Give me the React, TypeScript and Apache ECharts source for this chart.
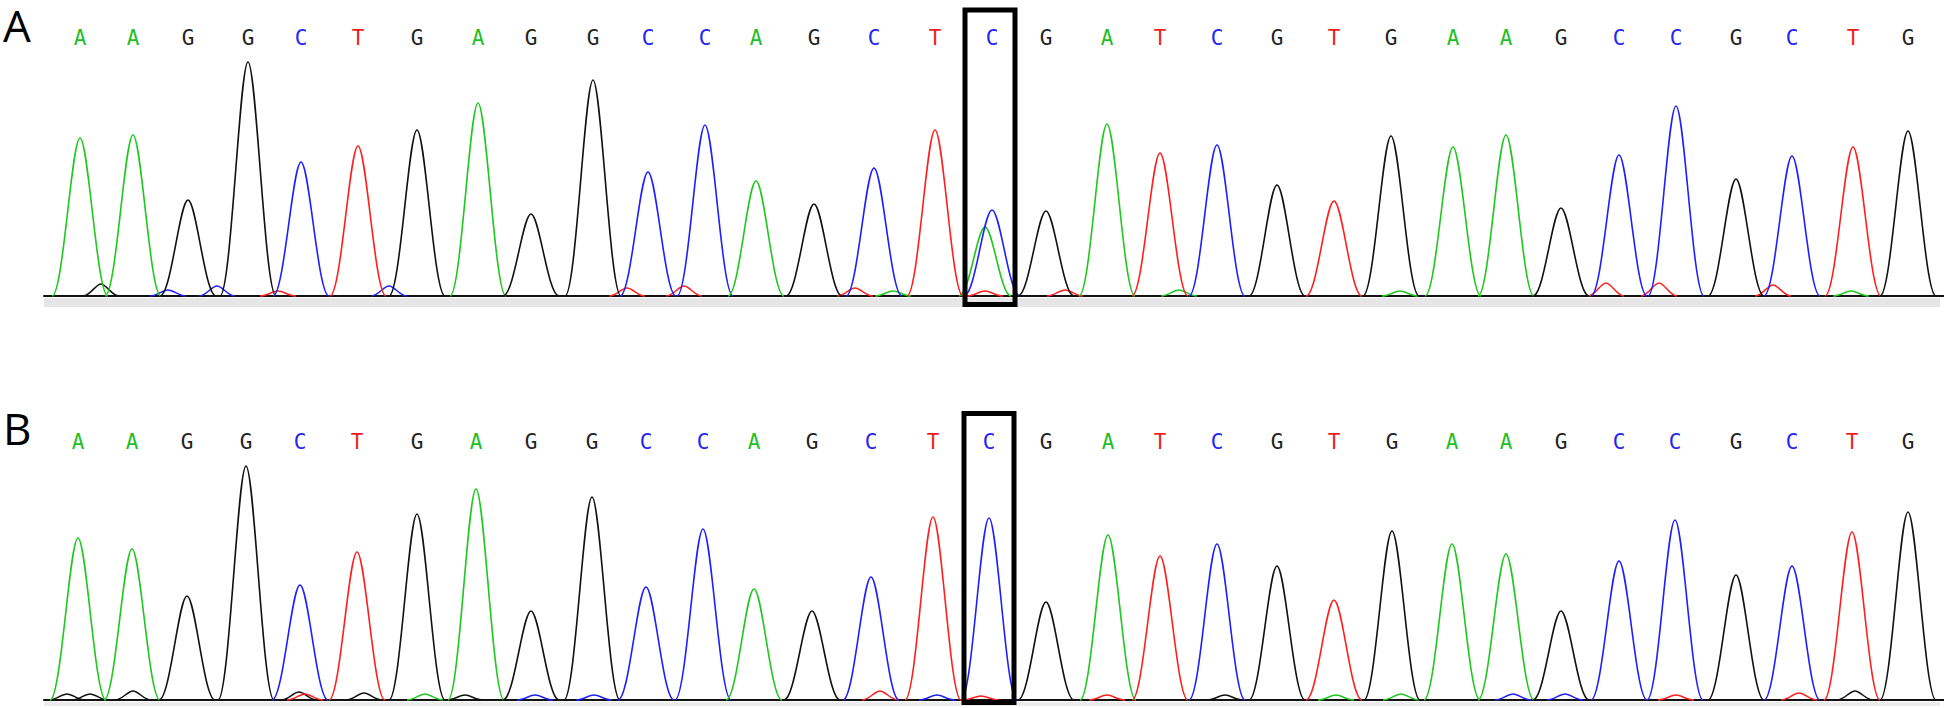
import React, { useEffect, useRef } from "react";
import * as echarts from "echarts";

// Base calls (same sequence in both panels)
const SEQUENCE = ["A","A","G","G","C","T","G","A","G","G","C","C","A","G","C","T","C","G","A","T","C","G","T","G","A","A","G","C","C","G","C","T","G"];

// Panel A: peak positions (scan units) and peak heights
const POS_A = [36,89,144,204,257,314,373,434,487,549,604,661,712,770,830,891,948,1002,1063,1116,1173,1233,1290,1347,1409,1462,1517,1575,1632,1692,1748,1809,1864];
const HEIGHT_A = [158,161,96,234,134,150,166,193,82,216,124,171,115,92,128,166,86,85,172,143,151,111,95,160,149,161,88,141,190,117,140,149,165];

// Panel B: peak positions and heights
const POS_B = [34,88,143,202,256,313,373,432,487,548,602,659,710,768,827,889,945,1002,1064,1116,1173,1233,1290,1348,1408,1462,1517,1575,1631,1692,1748,1808,1864];
const HEIGHT_B = [162,151,104,234,115,148,186,211,89,203,113,171,111,89,123,183,182,98,165,144,156,134,100,169,156,146,89,139,180,125,134,168,188];

// Secondary (mixed) peak under the boxed base in panel A
const SECONDARY_A: [string, number, number][] = [["A", 941, 69]];

// Small background signals [base, position, height]
const NOISE_A: [string, number, number][] = [
  ["G", 57, 12], ["C", 124, 6], ["C", 173, 10], ["T", 234, 5], ["C", 345, 10],
  ["T", 583, 8], ["T", 640, 10], ["T", 811, 8], ["A", 849, 5], ["T", 941, 5],
  ["T", 1021, 6], ["A", 1135, 6], ["A", 1356, 5], ["T", 1562, 13], ["T", 1615, 13],
  ["T", 1729, 11], ["A", 1807, 5]
];
const NOISE_B: [string, number, number][] = [
  ["G", 23, 6], ["G", 46, 6], ["G", 89, 9], ["G", 255, 8], ["T", 261, 6],
  ["G", 320, 7], ["A", 381, 6], ["G", 421, 5], ["C", 491, 5], ["C", 550, 5],
  ["T", 836, 9], ["C", 893, 5], ["T", 937, 4], ["T", 1063, 5], ["G", 1181, 5],
  ["A", 1292, 5], ["A", 1357, 6], ["C", 1469, 6], ["C", 1521, 6], ["T", 1632, 5],
  ["T", 1755, 7], ["G", 1811, 9]
];

const BOXED_INDEX = 16;
const PANEL_LABELS = ["A", "B"];

const TRACE_COLOR: Record<string, string> = { A: "#1ec81e", C: "#1f1fff", G: "#111111", T: "#ff1f1f" };
const LETTER_COLOR: Record<string, string> = { A: "#1fbf1f", C: "#2525f2", G: "#222222", T: "#f01e1e" };

const X_MAX = 1900;
const Y_MAX = 270;
const LETTER_VALUE = 258;
const PEAK_HALF = 28;
const NOISE_HALF = 18;

function peakPath(api: any, pos: number, h: number, half: number) {
  const b = api.coord([pos, 0]);
  const t = api.coord([pos, h]);
  const r = api.coord([pos + half, 0]);
  const w = r[0] - b[0];
  const x = b[0], y0 = b[1], yt = t[1];
  return `M${x - w} ${y0} C${x - 0.6 * w} ${y0} ${x - 0.3 * w} ${yt} ${x} ${yt} C${x + 0.3 * w} ${yt} ${x + 0.6 * w} ${y0} ${x + w} ${y0}`;
}

function peakSeries(idx: number, items: [string, number, number][], half: number, lw: number) {
  return {
    type: "custom",
    xAxisIndex: idx,
    yAxisIndex: idx,
    data: items.map((it) => [it[1], it[2], it[0]]),
    renderItem: (params: any, api: any) => {
      const item = items[params.dataIndex];
      return {
        type: "path",
        shape: { pathData: peakPath(api, item[1], item[2], half) },
        style: { stroke: TRACE_COLOR[item[0]], fill: "none", lineWidth: lw },
      };
    },
  };
}

function letterSeries(idx: number, pos: number[]) {
  return {
    type: "custom",
    xAxisIndex: idx,
    yAxisIndex: idx,
    data: pos.map((p) => [p, LETTER_VALUE]),
    renderItem: (params: any, api: any) => {
      const letter = SEQUENCE[params.dataIndex];
      const p = api.coord([api.value(0), api.value(1)]);
      return {
        type: "text",
        x: p[0],
        y: p[1],
        style: {
          text: letter,
          fill: LETTER_COLOR[letter],
          font: '21px "DejaVu Sans Mono"',
          align: "center",
          verticalAlign: "middle",
        },
      };
    },
  };
}

function boxSeries(idx: number, pos: number, top: number, bottom: number) {
  return {
    type: "custom",
    xAxisIndex: idx,
    yAxisIndex: idx,
    clip: false,
    z: 5,
    data: [[pos, top, bottom]],
    renderItem: (params: any, api: any) => {
      const a = api.coord([api.value(0) - 25, api.value(1)]);
      const c = api.coord([api.value(0) + 25, api.value(2)]);
      return {
        type: "rect",
        shape: { x: a[0], y: a[1], width: c[0] - a[0], height: c[1] - a[1] },
        style: { stroke: "#000", fill: "none", lineWidth: 5 },
      };
    },
  };
}

export default function App() {
  const ref = useRef<HTMLDivElement>(null);
  useEffect(() => {
    document.body.style.margin = "0";
    const chart = echarts.init(ref.current!, null, { renderer: "svg" });
    const mainA: [string, number, number][] = SEQUENCE.map((b, i) => [b, POS_A[i], HEIGHT_A[i]]);
    const mainB: [string, number, number][] = SEQUENCE.map((b, i) => [b, POS_B[i], HEIGHT_B[i]]);
    const xAxisBase = {
      type: "value",
      min: 0,
      max: X_MAX,
      axisLine: { show: true, onZero: false, lineStyle: { color: "#111", width: 2 } },
      axisTick: { show: false },
      axisLabel: { show: false },
      splitLine: { show: false },
    };
    const yAxisBase = {
      type: "value",
      min: 0,
      max: Y_MAX,
      show: false,
      splitLine: { show: false },
    };
    chart.setOption({
      animation: false,
      backgroundColor: "#ffffff",
      grid: [
        { left: 44, width: 1900, top: 26, height: 270 },
        { left: 44, width: 1900, top: 430, height: 270 },
      ],
      xAxis: [{ ...xAxisBase, gridIndex: 0 }, { ...xAxisBase, gridIndex: 1 }],
      yAxis: [{ ...yAxisBase, gridIndex: 0 }, { ...yAxisBase, gridIndex: 1 }],
      graphic: [
        { type: "rect", shape: { x: 44, y: 298, width: 1896, height: 9 }, style: { fill: "#e6e6e6" }, z: -1 },
        { type: "rect", shape: { x: 44, y: 702, width: 1896, height: 4 }, style: { fill: "#ececec" }, z: -1 },
        { type: "text", x: 3, y: 3, style: { text: PANEL_LABELS[0], font: '44px "Open Sans"', fill: "#000", verticalAlign: "top" } },
        { type: "text", x: 3, y: 406, style: { text: PANEL_LABELS[1], font: '44px "Open Sans"', fill: "#000", verticalAlign: "top" } },
      ],
      series: [
        peakSeries(0, NOISE_A, NOISE_HALF, 1.5),
        peakSeries(0, SECONDARY_A, PEAK_HALF - 2, 1.6),
        peakSeries(0, mainA, PEAK_HALF, 1.6),
        letterSeries(0, POS_A),
        boxSeries(0, POS_A[BOXED_INDEX] - 2, 286, -8.5),
        peakSeries(1, NOISE_B, NOISE_HALF, 1.5),
        peakSeries(1, mainB, PEAK_HALF, 1.6),
        letterSeries(1, POS_B),
        boxSeries(1, POS_B[BOXED_INDEX], 286.5, -2.5),
      ],
    });
    return () => chart.dispose();
  }, []);
  return <div ref={ref} style={{ width: 1944, height: 708 }} />;
}
